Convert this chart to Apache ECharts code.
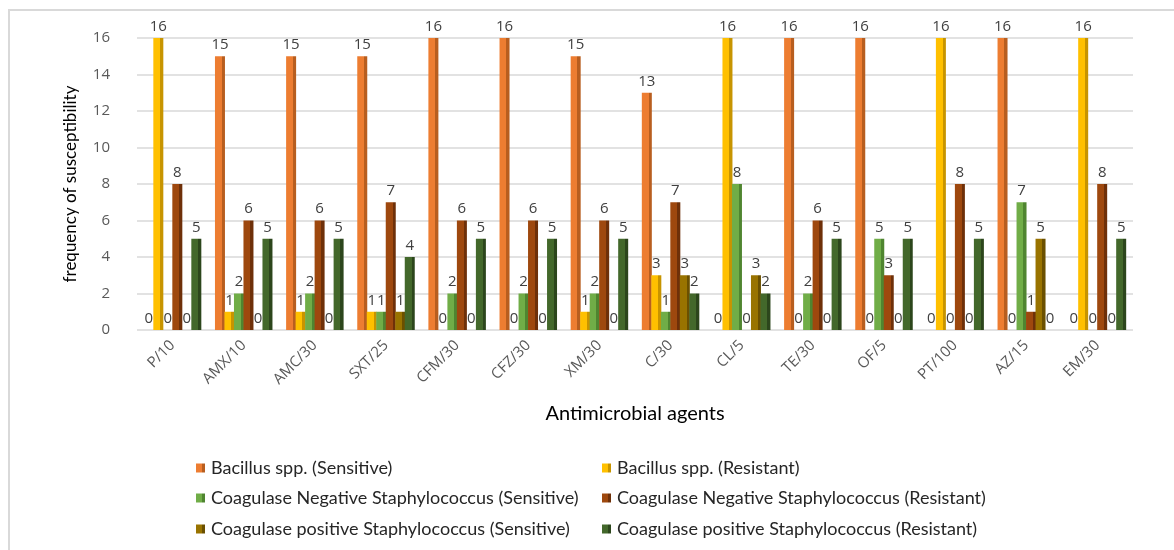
<!DOCTYPE html>
<html>
<head>
<meta charset="utf-8">
<script src="https://cdn.jsdelivr.net/npm/echarts@6/dist/echarts.min.js"></script>
<style>
html,body{margin:0;padding:0;background:#fff;}
#chart{width:1174px;height:550px;}
</style>
</head>
<body>
<div id="chart"></div>
<script>
var categories = ['P/10','AMX/10','AMC/30','SXT/25','CFM/30','CFZ/30','XM/30','C/30','CL/5','TE/30','OF/5','PT/100','AZ/15','EM/30'];
var seriesNames = [
	'Bacillus spp. (Sensitive)',
	'Bacillus spp. (Resistant)',
	'Coagulase Negative Staphylococcus (Sensitive)',
	'Coagulase Negative Staphylococcus (Resistant)',
	'Coagulase positive Staphylococcus (Sensitive)',
	'Coagulase positive Staphylococcus (Resistant)'
];
var bacillusSens = [0,15,15,15,16,16,15,13,0,16,16,0,16,0];
var bacillusRes  = [16,1,1,1,0,0,1,3,16,0,0,16,0,16];
var consSens     = [0,2,2,1,2,2,2,1,8,2,5,0,7,0];
var consRes      = [8,6,6,7,6,6,6,7,0,6,3,8,1,8];
var copsSens     = [0,0,0,1,0,0,0,3,3,0,0,0,5,0];
var copsRes      = [5,5,5,4,5,5,5,2,2,5,5,5,0,5];
var yTicks = [0,2,4,6,8,10,12,14,16];

var colors = ['#ED7D31','#FFC000','#70AD47','#9E480E','#997300','#43682B'];
var sides  = ['#B85E1F','#C79400','#4F8530','#6E3009','#6B5000','#2C461C'];
var values = [bacillusSens,bacillusRes,consSens,consRes,copsSens,copsRes];

var myChart = echarts.init(document.getElementById('chart'));

// flat bar with a darker right strip, gives the office 3d look
function barColor(i){
	return new echarts.graphic.LinearGradient(0,0,1,0,[
		{offset:0,color:colors[i]},
		{offset:0.68,color:colors[i]},
		{offset:0.68,color:sides[i]},
		{offset:1,color:sides[i]}
	]);
}

var series = [];
var legends = [];
var legendPos = [[196,459],[602,459],[196,489],[602,489],[196,520],[602,520]];
for (var i = 0; i < 6; i++) {
	series.push({
		name: seriesNames[i],
		type: 'bar',
		barWidth: 10,
		barGap: '-5%',
		color: colors[i],
		itemStyle: {color: barColor(i)},
		label: {
			show: true,
			position: 'top',
			distance: 4,
			color: '#404040',
			fontFamily: 'Open Sans',
			fontSize: 15
		},
		data: values[i]
	});
	legends.push({
		data: [seriesNames[i]],
		left: legendPos[i][0],
		top: legendPos[i][1],
		padding: 0,
		itemWidth: 9,
		itemHeight: 9,
		itemGap: 4,
		selectedMode: false,
		icon: 'rect',
		textStyle: {color:'#262626', fontFamily:'Lato', fontSize: 18, padding:[0,0,0,1]}
	});
}

var option = {
	backgroundColor: '#fff',
	animation: false,
	graphic: [{
		type: 'rect',
		shape: {x: 9, y: 10, width: 1200, height: 600},
		style: {fill: 'none', stroke: '#d9d9d9', lineWidth: 2}
	}],
	legend: legends,
	grid: {left: 137, right: 41, top: 38, bottom: 220},
	xAxis: {
		type: 'category',
		data: categories,
		name: 'Antimicrobial agents',
		nameLocation: 'middle',
		nameGap: 74,
		nameTextStyle: {color:'#000', fontFamily:'Lato', fontSize: 20},
		axisLine: {show: false},
		axisTick: {show: false},
		axisLabel: {
			rotate: 45,
			margin: 13,
			color: '#595959',
			fontFamily: 'Open Sans',
			fontSize: 15
		}
	},
	yAxis: {
		type: 'value',
		min: 0,
		max: 16,
		interval: 2,
		name: 'frequency of susceptibility',
		nameLocation: 'middle',
		nameGap: 58,
		nameTextStyle: {color:'#000', fontFamily:'Lato', fontSize: 17},
		axisLine: {show: false},
		axisTick: {show: false},
		axisLabel: {
			margin: 27,
			color: '#595959',
			fontFamily: 'Open Sans',
			fontSize: 15,
			formatter: function(v){ return yTicks.indexOf(v) >= 0 ? String(v) : ''; }
		},
		splitLine: {lineStyle: {color: '#d9d9d9', width: 1.5}}
	},
	series: series
};
myChart.setOption(option);
</script>
</body>
</html>
